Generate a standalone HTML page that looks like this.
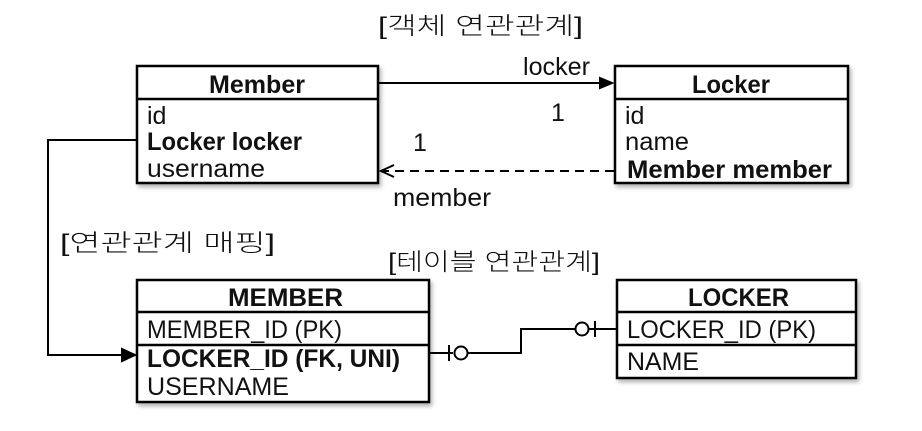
<!DOCTYPE html>
<html><head><meta charset="utf-8"><style>
body{margin:0;background:#fff}
svg{display:block}
text{font-family:"Liberation Sans","Noto Sans CJK KR",sans-serif;font-size:25px;fill:#111}
.b{font-weight:bold}
.k{font-size:24px;font-weight:300}
</style></head><body>
<svg width="922" height="431" viewBox="0 0 922 431" xmlns="http://www.w3.org/2000/svg">
<defs>
<filter id="sh" x="-5%" y="-5%" width="115%" height="120%"><feDropShadow dx="2" dy="3" stdDeviation="2" flood-opacity="0.3"/></filter>
</defs>
<g fill="#fff" stroke="#000" stroke-width="2.5">
<rect x="137" y="66" width="241" height="117" filter="url(#sh)"/>
<rect x="615" y="66" width="233" height="117" filter="url(#sh)"/>
<rect x="137" y="280" width="292" height="122" filter="url(#sh)"/>
<rect x="617" y="280" width="239" height="98" filter="url(#sh)"/>
</g>
<g stroke="#000" stroke-width="2.5" fill="none">
<line x1="137" y1="99" x2="378" y2="99"/>
<line x1="615" y1="99" x2="848" y2="99"/>
<line x1="137" y1="312" x2="429" y2="312"/>
<line x1="137" y1="345" x2="429" y2="345"/>
<line x1="617" y1="312" x2="856" y2="312"/>
<line x1="617" y1="345" x2="856" y2="345"/>
</g>
<g stroke="#000" stroke-width="2" fill="none">
<line x1="378" y1="83" x2="612" y2="83"/>
<path d="M600 78 L612 83 L600 88 Z" fill="#000"/>
<line x1="614" y1="171" x2="382" y2="171" stroke-dasharray="9,6"/>
<path d="M394 165 L381 171 L394 177"/>
<path d="M137 140 H48 V355 H134"/>
<path d="M122 349 L135 355 L122 361 Z" fill="#000"/>
<path d="M429 353 H453 M449 345 V361"/>
<circle cx="461" cy="353" r="6.5"/>
<path d="M467.5 353 H521 V329 H575"/>
<circle cx="582" cy="329" r="6.5"/>
<path d="M588.5 329 H617 M595 321 V337"/>
</g>
<text class="k" x="378" y="34" textLength="205" lengthAdjust="spacingAndGlyphs">[객체 연관관계]</text>
<text x="523" y="75" textLength="67" lengthAdjust="spacingAndGlyphs">locker</text>
<text x="551" y="121">1</text>
<text x="413" y="151">1</text>
<text x="393" y="206" textLength="98" lengthAdjust="spacingAndGlyphs">member</text>
<text class="k" x="60" y="251" textLength="215" lengthAdjust="spacingAndGlyphs">[연관관계 매핑]</text>
<text class="k" x="388" y="270" textLength="212" lengthAdjust="spacingAndGlyphs">[테이블 연관관계]</text>
<text class="b" x="209" y="93" textLength="96" lengthAdjust="spacingAndGlyphs">Member</text>
<text x="147" y="124">id</text>
<text class="b" x="147" y="150" textLength="155" lengthAdjust="spacingAndGlyphs">Locker locker</text>
<text x="147" y="177" textLength="118" lengthAdjust="spacingAndGlyphs">username</text>
<text class="b" x="692" y="93" textLength="78" lengthAdjust="spacingAndGlyphs">Locker</text>
<text x="625" y="124">id</text>
<text x="625" y="150" textLength="64" lengthAdjust="spacingAndGlyphs">name</text>
<text class="b" x="627" y="178" textLength="205" lengthAdjust="spacingAndGlyphs">Member member</text>
<text class="b" x="228" y="306" textLength="115" lengthAdjust="spacingAndGlyphs">MEMBER</text>
<text x="147" y="338" textLength="195" lengthAdjust="spacingAndGlyphs">MEMBER_ID (PK)</text>
<text class="b" x="147" y="367" textLength="253" lengthAdjust="spacingAndGlyphs">LOCKER_ID (FK, UNI)</text>
<text x="147" y="395" textLength="142" lengthAdjust="spacingAndGlyphs">USERNAME</text>
<text class="b" x="688" y="306" textLength="101" lengthAdjust="spacingAndGlyphs">LOCKER</text>
<text x="627" y="338" textLength="189" lengthAdjust="spacingAndGlyphs">LOCKER_ID (PK)</text>
<text x="627" y="370" textLength="72" lengthAdjust="spacingAndGlyphs">NAME</text>
</svg>
</body></html>
